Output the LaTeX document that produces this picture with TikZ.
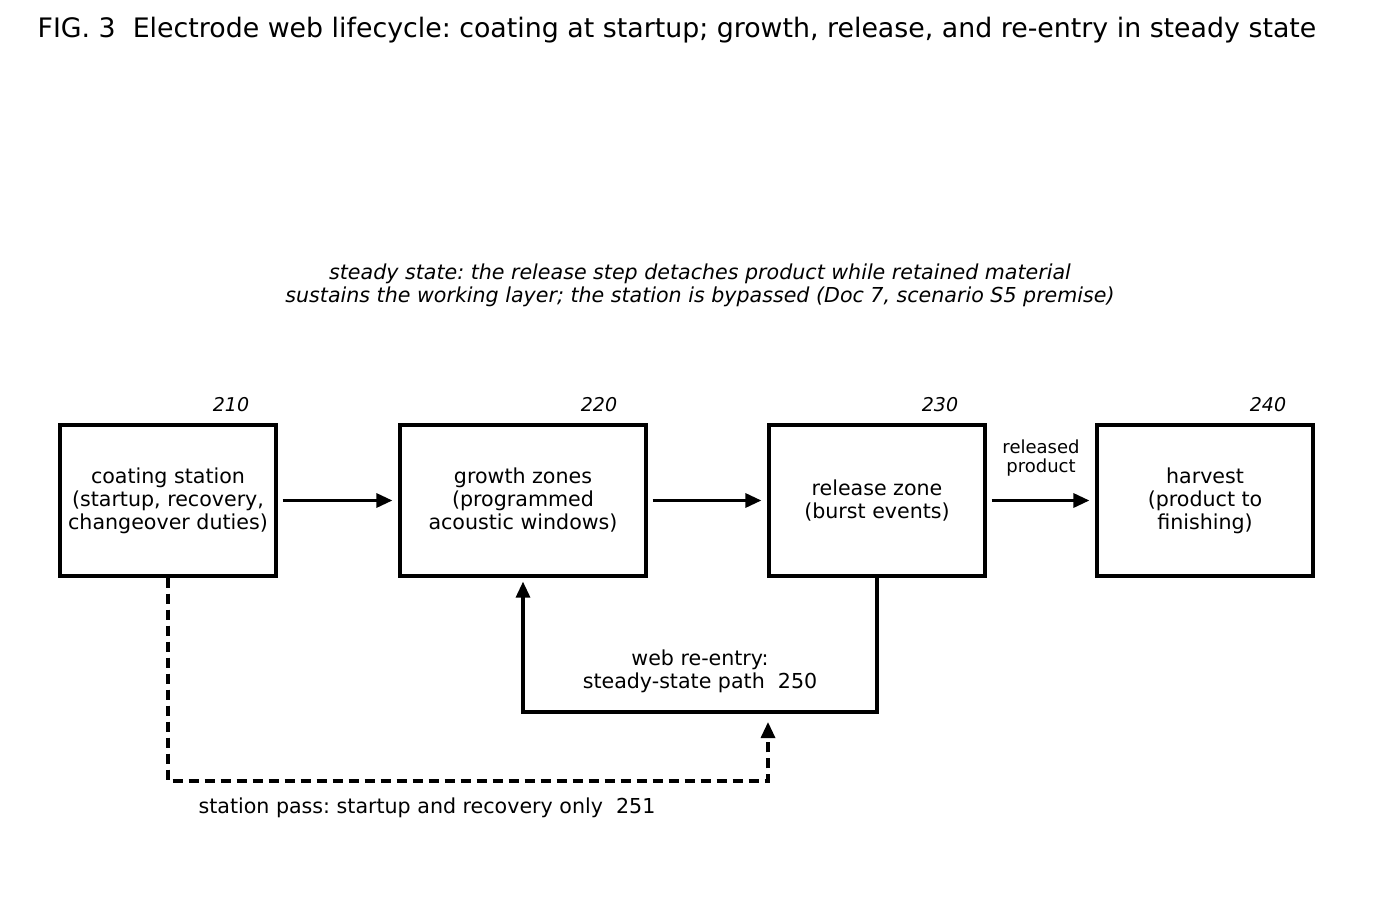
\documentclass[tikz,border=0pt]{standalone}
\usepackage{fontspec}
\setmainfont{DejaVu Sans}
\usetikzlibrary{arrows.meta}
\frenchspacing

\begin{document}
\begin{tikzpicture}[x=0.5pt,y=-0.5pt,line width=1.6pt,>={Triangle[length=8pt,width=7pt]},
  box/.style={draw,line width=1.6pt,minimum width=108pt,minimum height=75.5pt,inner sep=0pt,
    align=center,font=\fontsize{10.3}{11.5}\selectfont},
  tag/.style={font=\itshape\fontsize{9.5}{11}\selectfont},
  txt/.style={align=center,font=\fontsize{10.3}{11.5}\selectfont}]
  \useasboundingbox (0,0) rectangle (1400,898);
  % title and note
  \node[anchor=west,inner sep=0pt,font=\fontsize{13.4}{15}\selectfont] (title) at (36,30)
    {FIG. 3~~Electrode web lifecycle: coating at startup; growth, release, and re-entry in steady state};
  \node[txt,font=\itshape\fontsize{10.3}{11.5}\selectfont] (note) at (700,285)
    {steady state: the release step detaches product while retained material\\sustains the working layer; the station is bypassed (Doc 7, scenario S5 premise)};
  % stations
  \node[box] (coat) at (168,500.5) {coating station\\(startup, recovery,\\changeover duties)};
  \node[box,minimum width=123pt] (grow) at (523,500.5) {growth zones\\(programmed\\acoustic windows)};
  \node[box] (rel) at (877,500.5) {release zone\\(burst events)};
  \node[box] (harv) at (1205,500.5) {harvest\\(product to\\finishing)};
  \node[tag] (t210) at (231,405) {210};
  \node[tag] (t220) at (599,405) {220};
  \node[tag] (t230) at (940,405) {230};
  \node[tag] (t240) at (1268,405) {240};
  % main line
  \draw[->,shorten <=2.5pt,shorten >=3pt] (coat) -- (grow);
  \draw[->,shorten <=2.5pt,shorten >=3pt] (grow) -- (rel);
  \draw[->,shorten <=2.5pt,shorten >=3pt] (rel) -- (harv);
  \node[align=center,font=\fontsize{9}{9.5}\selectfont] (relprod) at (1041,458) {released\\product};
  % re-entry loop 250
  \coordinate (loopc) at (877,712);
  \draw[->,shorten >=2pt] (rel.south) -- (loopc) -| (grow.south);
  \node[txt] (l250) at (700,671) {web re-entry:\\steady-state path~~250};
  % station pass 251
  \coordinate (passc) at (768,781);
  \coordinate (passend) at (768,722);
  \draw[->,dash pattern=on 5pt off 3pt] (coat.south) |- (passc) -- (passend);
  \node[txt,anchor=west,inner sep=0pt] (l251) at (197,808) {station pass: startup and recovery only~~251};
\end{tikzpicture}
\end{document}
